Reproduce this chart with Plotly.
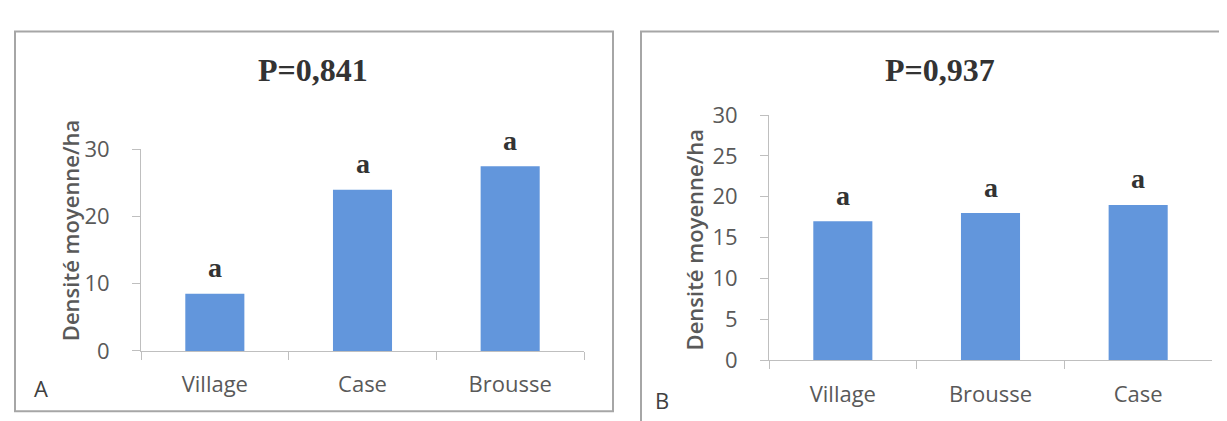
import plotly.graph_objects as go

# ---- data ----
cats_A = ["Village", "Case", "Brousse"]
vals_A = [8.5, 24.0, 27.5]
letters_A = ["a", "a", "a"]
title_A = "P=0,841"

cats_B = ["Village", "Brousse", "Case"]
vals_B = [17.0, 18.0, 19.0]
letters_B = ["a", "a", "a"]
title_B = "P=0,937"

ytitle = "Densité moyenne/ha"
W, H = 1227, 421

def px(x):
    return x / W

def py(y):
    return 1 - y / H

BAR = "#6296DC"
GRAY_TXT = "#595959"
AXIS = "#BFBFBF"
SANS = "Open Sans, DejaVu Sans, sans-serif"
SERIF = "Liberation Serif, Times New Roman, serif"

fig = go.Figure()
fig.add_trace(go.Bar(x=cats_A, y=vals_A, width=0.4, marker=dict(color=BAR, line=dict(width=0)),
                     xaxis="x", yaxis="y", showlegend=False, hoverinfo="skip"))
fig.add_trace(go.Bar(x=cats_B, y=vals_B, width=0.4, marker=dict(color=BAR, line=dict(width=0)),
                     xaxis="x2", yaxis="y2", showlegend=False, hoverinfo="skip"))

common_x = dict(type="category", showline=True, linecolor=AXIS, linewidth=1, ticks="outside",
                tickson="boundaries", ticklen=8, tickcolor=AXIS, showgrid=False, zeroline=False,
                tickfont=dict(family=SANS, size=22, color=GRAY_TXT), ticklabelstandoff=14, fixedrange=True)
common_y = dict(range=[0, 30], showline=True, linecolor=AXIS, linewidth=1, ticks="outside",
                ticklen=8, tickcolor=AXIS, showgrid=False, zeroline=False,
                tickfont=dict(family=SANS, size=22, color=GRAY_TXT), ticklabelstandoff=18, fixedrange=True)

fig.update_layout(
    width=W, height=H, autosize=False,
    margin=dict(l=0, r=0, t=0, b=0),
    paper_bgcolor="white", plot_bgcolor="white",
    xaxis=dict(domain=[px(133), px(576)], anchor="y", **common_x),
    yaxis=dict(domain=[py(352), py(135)], anchor="x", dtick=10, **common_y),
    xaxis2=dict(domain=[px(761), px(1204)], anchor="y2", **common_x),
    yaxis2=dict(domain=[py(362), py(98)], anchor="x2", dtick=5, **common_y),
)

annotations = []
for c, v, t in zip(cats_A, vals_A, letters_A):
    annotations.append(dict(x=c, y=v, xref="x", yref="y", text=t, showarrow=False, yshift=26,
                            yanchor="middle", font=dict(family=SERIF, size=28, color="#333333", weight="bold")))
for c, v, t in zip(cats_B, vals_B, letters_B):
    annotations.append(dict(x=c, y=v, xref="x2", yref="y2", text=t, showarrow=False, yshift=26,
                            yanchor="middle", font=dict(family=SERIF, size=28, color="#333333", weight="bold")))

# titles
annotations.append(dict(x=px(305), y=py(49), xref="paper", yref="paper", text=title_A, showarrow=False,
                        xanchor="center", yanchor="middle",
                        font=dict(family=SERIF, size=32, color="#333333", weight="bold")))
annotations.append(dict(x=px(932), y=py(49), xref="paper", yref="paper", text=title_B, showarrow=False,
                        xanchor="center", yanchor="middle",
                        font=dict(family=SERIF, size=32, color="#333333", weight="bold")))
# y axis titles
annotations.append(dict(x=px(62), y=py(222), xref="paper", yref="paper", text=ytitle, showarrow=False,
                        textangle=-90, xanchor="center", yanchor="middle",
                        font=dict(family=SANS, size=22, color=GRAY_TXT, weight=600)))
annotations.append(dict(x=px(686), y=py(232), xref="paper", yref="paper", text=ytitle, showarrow=False,
                        textangle=-90, xanchor="center", yanchor="middle",
                        font=dict(family=SANS, size=22, color=GRAY_TXT, weight=600)))
# panel letters
annotations.append(dict(x=px(33), y=py(392), xref="paper", yref="paper", text="A", showarrow=False,
                        xanchor="center", yanchor="middle", font=dict(family=SANS, size=22, color="#404040")))
annotations.append(dict(x=px(654), y=py(405), xref="paper", yref="paper", text="B", showarrow=False,
                        xanchor="center", yanchor="middle", font=dict(family=SANS, size=22, color="#404040")))
fig.update_layout(annotations=annotations)

# panel frames
fig.add_shape(type="rect", xref="paper", yref="paper", x0=px(7), x1=px(605), y0=py(417), y1=py(8),
              line=dict(color="#A6A6A6", width=2), fillcolor="rgba(0,0,0,0)", layer="below")
fig.add_shape(type="rect", xref="paper", yref="paper", x0=px(633), x1=px(1245), y0=py(440), y1=py(8),
              line=dict(color="#A6A6A6", width=2), fillcolor="rgba(0,0,0,0)", layer="below")

fig.write_html("out.html")
